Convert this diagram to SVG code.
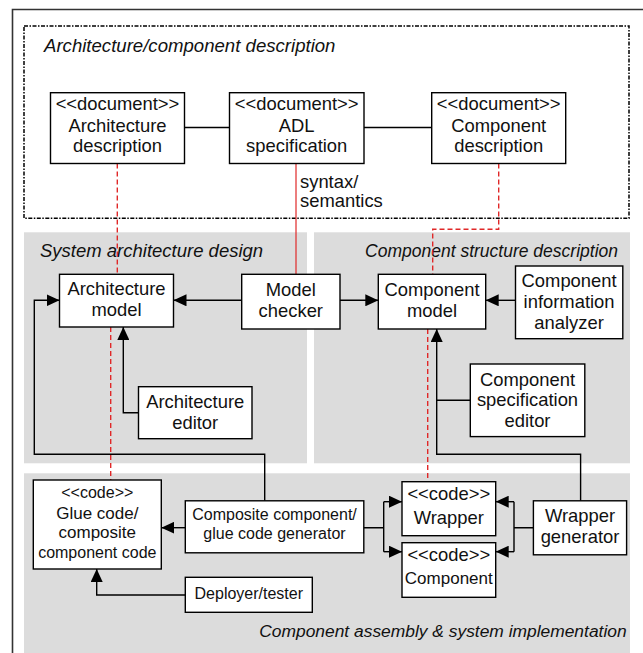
<svg xmlns="http://www.w3.org/2000/svg" width="643" height="653" viewBox="0 0 643 653">
<defs>
<marker id="ah" viewBox="0 0 13 12" refX="13" refY="6" markerWidth="13" markerHeight="12" markerUnits="userSpaceOnUse" orient="auto">
<path d="M0,0 L13,6 L0,12 z" fill="#000"/>
</marker>
<style>
.box{fill:#fff;stroke:#000;stroke-width:1.4}
.panel{fill:#dcdcdc;stroke:none}
.t{font-family:"Liberation Sans",Arial,sans-serif;font-size:18.4px;fill:#111;text-anchor:middle}
.s16{font-size:16px}
.s17{font-size:17px}
.lbl{font-family:"Liberation Sans",Arial,sans-serif;font-size:18px;font-style:italic;fill:#111}
.c{fill:none;stroke:#000;stroke-width:1.4}
.a{marker-end:url(#ah)}
.rd{fill:none;stroke:#e02828;stroke-width:1.4;stroke-dasharray:5 3}
.rs{fill:none;stroke:#e02828;stroke-width:1.2}
</style>
</defs>
<rect width="643" height="653" fill="#fff"/>
<path d="M12.5,653 V9.5 H643" fill="none" stroke="#333" stroke-width="1.6"/>
<g id="regions">
<rect x="24" y="26" width="605" height="192.3" fill="none" stroke="#000" stroke-width="1.5" stroke-dasharray="4 1.5 1.5 1.5"/>
<text class="lbl" x="44" y="52" style="font-size:18.6px">Architecture/component description</text>
<rect class="panel" x="24" y="232.3" width="283" height="231"/>
<rect class="panel" x="314" y="232.3" width="316" height="231"/>
<rect class="panel" x="24" y="473.3" width="606" height="179.7"/>
<text class="lbl" x="40" y="257" style="font-size:18.5px">System architecture design</text>
<text class="lbl" x="618" y="257.3" style="text-anchor:end;font-size:17.5px">Component structure description</text>
<text class="lbl" x="626.6" y="637" style="text-anchor:end;font-size:17.4px">Component assembly &amp; system implementation</text>
</g>
<g id="connectors">
<path class="c" d="M184.5,127.5 H229.5 M364,127.5 H431.7"/>
<path class="rd" d="M117.3,163.5 V274.3"/>
<path class="rd" d="M110.7,327 V480"/>
<path class="rs" d="M296,163.5 V274.3"/>
<path class="rd" d="M498.7,163.5 V229.3 H432.7 V274.3"/>
<path class="rd" d="M427.7,329 V481.7"/>
<path class="c a" d="M241.7,300.3 H173.5"/>
<path class="c a" d="M340,300.3 H378.3"/>
<path class="c a" d="M515.5,300.3 H485.7"/>
<path class="c a" d="M138.5,412.7 H123.3 V327"/>
<path class="c a" d="M264.7,500.8 V454.3 H34.3 V300.3 H59.5"/>
<path class="c a" d="M470.3,400.3 H436.7 V329"/>
<path class="c" d="M580.6,500.8 V454.3 H436.7 V400.3"/>
<path class="c a" d="M185.3,527.7 H161.3"/>
<path class="c a" d="M185.3,595 H96.7 V569"/>
<path class="c" d="M363.8,527.7 H383.7 M383.7,501.7 V551.7"/>
<path class="c a" d="M383.7,501.7 H402"/>
<path class="c a" d="M383.7,551.7 H402"/>
<path class="c" d="M533.4,527.7 H514 M514,501.7 V551.7"/>
<path class="c a" d="M514,501.7 H495.7"/>
<path class="c a" d="M514,551.7 H495.7"/>
<text class="t" x="300" y="188" style="text-anchor:start">syntax/</text>
<text class="t" x="300" y="207" style="text-anchor:start">semantics</text>
</g>
<g id="arch_desc">
<rect class="box" x="50.5" y="92.7" width="134" height="70.8"/>
<text class="t" x="117.5" y="110">&lt;&lt;document&gt;&gt;</text>
<text class="t" x="117.5" y="131.5">Architecture</text>
<text class="t" x="117.5" y="152">description</text>
</g>
<g id="adl_spec">
<rect class="box" x="229.5" y="92.7" width="134.5" height="70.8"/>
<text class="t" x="296.7" y="110">&lt;&lt;document&gt;&gt;</text>
<text class="t" x="296.7" y="131.5">ADL</text>
<text class="t" x="296.7" y="152">specification</text>
</g>
<g id="comp_desc">
<rect class="box" x="431.7" y="92.7" width="134" height="70.8"/>
<text class="t" x="498.7" y="110">&lt;&lt;document&gt;&gt;</text>
<text class="t" x="498.7" y="131.5">Component</text>
<text class="t" x="498.7" y="152">description</text>
</g>
<g id="arch_model">
<rect class="box" x="59.5" y="274.3" width="114" height="52.7"/>
<text class="t" x="116.5" y="295">Architecture</text>
<text class="t" x="116.5" y="316">model</text>
</g>
<g id="model_checker">
<rect class="box" x="241.7" y="274.3" width="98.3" height="54.7"/>
<text class="t" x="290.8" y="296">Model</text>
<text class="t" x="290.8" y="317">checker</text>
</g>
<g id="comp_model">
<rect class="box" x="378.3" y="274.3" width="107.4" height="54.7"/>
<text class="t" x="432" y="296">Component</text>
<text class="t" x="432" y="316.5">model</text>
</g>
<g id="comp_info">
<rect class="box" x="515.5" y="266" width="107.3" height="72.7"/>
<text class="t" x="569.1" y="287">Component</text>
<text class="t" x="569.1" y="308">information</text>
<text class="t" x="569.1" y="328.5">analyzer</text>
</g>
<g id="arch_editor">
<rect class="box" x="138.5" y="386.7" width="113.5" height="52"/>
<text class="t" x="195.2" y="408.3">Architecture</text>
<text class="t" x="195.2" y="428.5">editor</text>
</g>
<g id="comp_spec_editor">
<rect class="box" x="470.3" y="364" width="114.5" height="72.6"/>
<text class="t" x="527.5" y="386">Component</text>
<text class="t" x="527.5" y="406">specification</text>
<text class="t" x="527.5" y="427">editor</text>
</g>
<g id="glue_code">
<rect class="box" x="33.3" y="480" width="128" height="89"/>
<text class="t s16" x="97.3" y="497.5">&lt;&lt;code&gt;&gt;</text>
<text class="t s17" x="97.3" y="518.5">Glue code/</text>
<text class="t s17" x="97.3" y="538">composite</text>
<text class="t s16" x="97.3" y="557.5">component code</text>
</g>
<g id="composite_gen">
<rect class="box" x="185.3" y="500.8" width="178.5" height="52"/>
<text class="t s16" x="274.5" y="520">Composite component/</text>
<text class="t s16" x="274.5" y="538.5">glue code generator</text>
</g>
<g id="wrapper">
<rect class="box" x="402" y="481.7" width="93.7" height="54"/>
<text class="t" x="448.8" y="500">&lt;&lt;code&gt;&gt;</text>
<text class="t" x="448.8" y="523.5">Wrapper</text>
</g>
<g id="component_code">
<rect class="box" x="402" y="542.7" width="93.7" height="54.6"/>
<text class="t" x="448.8" y="561">&lt;&lt;code&gt;&gt;</text>
<text class="t s17" x="448.8" y="584">Component</text>
</g>
<g id="wrapper_gen">
<rect class="box" x="533.4" y="500.8" width="93.2" height="54"/>
<text class="t" x="580" y="521.7">Wrapper</text>
<text class="t" x="580" y="543.3">generator</text>
</g>
<g id="deployer">
<rect class="box" x="185.3" y="577.3" width="127" height="35"/>
<text class="t s16" x="248.8" y="598.5">Deployer/tester</text>
</g>
</svg>
